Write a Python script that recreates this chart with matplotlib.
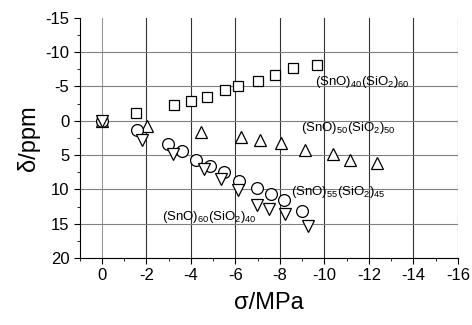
import matplotlib
matplotlib.use("Agg")
import matplotlib.pyplot as plt
from matplotlib.ticker import MultipleLocator

plt.rcParams['font.family'] = ['Liberation Sans', 'DejaVu Sans']
plt.rcParams['mathtext.fontset'] = 'custom'
plt.rcParams['mathtext.rm'] = 'Liberation Sans'
plt.rcParams['axes.unicode_minus'] = False

# (SnO)40(SiO2)60 - squares
sig_40 = [0, -1.53, -3.22, -4.0, -4.73, -5.54, -6.13, -7.03, -7.8, -8.6, -9.68]
del_40 = [0, -1.1, -2.3, -2.9, -3.5, -4.5, -5.1, -5.8, -6.7, -7.7, -8.2]

# (SnO)50(SiO2)50 - up triangles
sig_50 = [0, -2.04, -4.45, -6.25, -7.1, -8.07, -9.15, -10.37, -11.15, -12.35]
del_50 = [0.1, 0.7, 1.6, 2.3, 2.75, 3.2, 4.2, 4.9, 5.65, 6.1]

# (SnO)55(SiO2)45 - circles
sig_55 = [0, -1.59, -2.95, -3.6, -4.22, -4.85, -5.47, -6.17, -6.98, -7.6, -8.2, -9.0]
del_55 = [0, 1.4, 3.4, 4.45, 5.75, 6.6, 7.4, 8.75, 9.85, 10.7, 11.55, 13.1]

# (SnO)60(SiO2)40 - down triangles
sig_60 = [0, -1.8, -3.2, -4.58, -5.36, -6.13, -6.95, -7.52, -8.22, -9.27]
del_60 = [0, 2.75, 4.9, 7.0, 8.55, 10.1, 12.2, 12.9, 13.6, 15.4]

fig = plt.figure(figsize=(4.72, 3.25), dpi=100)
ax = fig.add_axes([0.169, 0.206, 0.801, 0.739])

mk = dict(linestyle='none', markerfacecolor='white', markeredgecolor='black',
          markeredgewidth=0.9, zorder=3)
ax.plot(sig_40, del_40, marker='s', markersize=7, **mk)
ax.plot(sig_50, del_50, marker='^', markersize=9, **mk)
ax.plot(sig_55, del_55, marker='o', markersize=8.5, **mk)
ax.plot(sig_60, del_60, marker='v', markersize=9, **mk)

ax.set_xlim(1, -16)
ax.set_ylim(20, -15)
ax.xaxis.set_major_locator(MultipleLocator(2))
ax.xaxis.set_minor_locator(MultipleLocator(1))
ax.yaxis.set_major_locator(MultipleLocator(5))
ax.yaxis.set_minor_locator(MultipleLocator(2.5))

ax.grid(True, which='major', axis='x', color='0.2', linewidth=0.8)
ax.grid(True, which='major', axis='y', color='0.5', linewidth=0.8)

ax.spines['top'].set_visible(False)
ax.spines['right'].set_visible(False)
ax.tick_params(axis='both', which='major', labelsize=12, length=4, direction='out')
ax.tick_params(axis='both', which='minor', length=2, direction='out')

ax.set_xlabel('σ/MPa', fontsize=17, labelpad=6)
ax.set_ylabel('δ/ppm', fontsize=17)

lbl = 9.5
ax.text(-9.57, -5.6, r'(SnO)$_{\mathregular{40}}$(SiO$_{\mathregular{2}}$)$_{\mathregular{60}}$',
        fontsize=lbl, va='center', ha='left')
ax.text(-8.94, 1.0, r'(SnO)$_{\mathregular{50}}$(SiO$_{\mathregular{2}}$)$_{\mathregular{50}}$',
        fontsize=lbl, va='center', ha='left')
ax.text(-8.52, 10.4, r'(SnO)$_{\mathregular{55}}$(SiO$_{\mathregular{2}}$)$_{\mathregular{45}}$',
        fontsize=lbl, va='center', ha='left')
ax.text(-2.68, 14.0, r'(SnO)$_{\mathregular{60}}$(SiO$_{\mathregular{2}}$)$_{\mathregular{40}}$',
        fontsize=lbl, va='center', ha='left')

fig.canvas.draw()
for t in ax.xaxis.get_major_ticks():
    if abs(t.get_loc()) < 1e-9:
        t.gridline.set_color('0.6')
for t in ax.yaxis.get_major_ticks():
    if abs(t.get_loc() + 15) < 1e-9:
        t.gridline.set_visible(False)

plt.savefig('out.png', dpi=100)
